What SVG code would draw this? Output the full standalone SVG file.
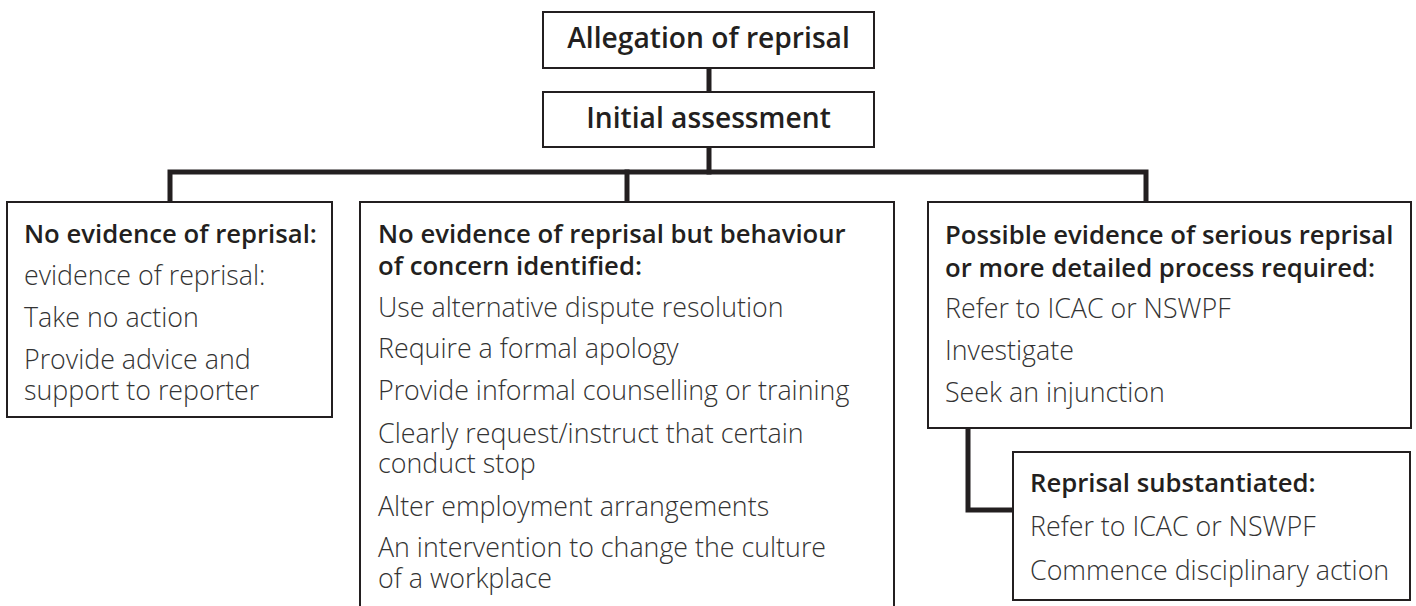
<svg xmlns="http://www.w3.org/2000/svg" width="1416" height="606" viewBox="0 0 1416 606">
  <style>
    .box { fill: #ffffff; stroke: #231f20; stroke-width: 2; }
    .link { fill: none; stroke: #231f20; stroke-width: 5; stroke-linejoin: miter; stroke-linecap: square; }
    .head { font-family: "Open Sans", "Noto Sans", sans-serif; font-weight: 600; font-size: 25.7px; fill: #231f20; }
    .title { font-family: "Open Sans", "Noto Sans", sans-serif; font-weight: 600; font-size: 28.2px; fill: #231f20; text-anchor: middle; }
    .body { font-family: "Open Sans", "Noto Sans", sans-serif; font-weight: 300; font-size: 26.8px; fill: #333333; }
  </style>

  <!-- connectors -->
  <g id="connectors">
    <path class="link" d="M709 68 V92"/>
    <path class="link" d="M709 147 V172"/>
    <path class="link" d="M170 202 V172 H1146 V202"/>
    <path class="link" d="M627 172 V202"/>
    <path class="link" d="M968 428 V510 H1013"/>
  </g>

  <g id="allegation">
    <rect class="box" x="543" y="12" width="331" height="56"/>
    <text class="title" x="708.5" y="48">Allegation of reprisal</text>
  </g>

  <g id="initial-assessment">
    <rect class="box" x="543" y="92" width="331" height="55"/>
    <text class="title" x="708.5" y="128">Initial assessment</text>
  </g>

  <g id="no-evidence">
    <rect class="box" x="7" y="202" width="325" height="215"/>
    <text class="head" x="24" y="243">No evidence of reprisal:</text>
    <text class="body" x="24" y="285">evidence of reprisal:</text>
    <text class="body" x="24" y="327">Take no action</text>
    <text class="body" x="24" y="369">Provide advice and<tspan x="24" dy="31">support to reporter</tspan></text>
  </g>

  <g id="behaviour-of-concern">
    <rect class="box" x="360" y="202" width="534" height="420"/>
    <text class="head" x="378" y="243">No evidence of reprisal but behaviour<tspan x="378" dy="32">of concern identified:</tspan></text>
    <text class="body" x="378" y="317">Use alternative dispute resolution</text>
    <text class="body" x="378" y="358">Require a formal apology</text>
    <text class="body" x="378" y="400">Provide informal counselling or training</text>
    <text class="body" x="378" y="443">Clearly request/instruct that certain<tspan x="378" dy="30">conduct stop</tspan></text>
    <text class="body" x="378" y="516">Alter employment arrangements</text>
    <text class="body" x="378" y="557">An intervention to change the culture<tspan x="378" dy="31">of a workplace</tspan></text>
  </g>

  <g id="serious-reprisal">
    <rect class="box" x="928" y="202" width="483" height="226"/>
    <text class="head" x="945" y="244">Possible evidence of serious reprisal<tspan x="945" dy="33">or more detailed process required:</tspan></text>
    <text class="body" x="945" y="318">Refer to ICAC or NSWPF</text>
    <text class="body" x="945" y="360">Investigate</text>
    <text class="body" x="945" y="402">Seek an injunction</text>
  </g>

  <g id="substantiated">
    <rect class="box" x="1013" y="452" width="397" height="148"/>
    <text class="head" x="1030" y="492">Reprisal substantiated:</text>
    <text class="body" x="1030" y="536">Refer to ICAC or NSWPF</text>
    <text class="body" x="1030" y="580">Commence disciplinary action</text>
  </g>
</svg>
